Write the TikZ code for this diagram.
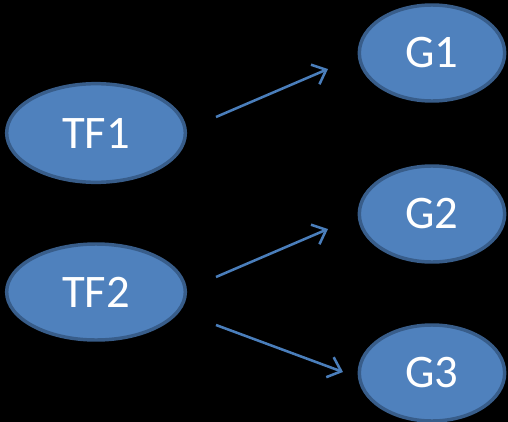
\documentclass[tikz,border=0pt]{standalone}
\usepackage{fontspec}
\setmainfont{Carlito}
\usetikzlibrary{shapes.geometric,arrows.meta}
\definecolor{nodefill}{HTML}{4F81BD}
\definecolor{nodeline}{HTML}{385D8A}
\definecolor{arrowc}{HTML}{4A7EBB}
\tikzset{
  gene/.style={ellipse, fill=nodefill, draw=nodeline, line width=2.6pt, text=white,
    font=\fontsize{35}{40}\selectfont, inner sep=0pt},
  link/.style={draw=arrowc, line width=1.9pt, -{Straight Barb[length=9pt,width=16pt,line width=1.9pt]}}
}
\begin{document}
\begin{tikzpicture}[x=0.75pt,y=-0.75pt]
\fill[black] (0,0) rectangle (508,422);
\useasboundingbox (0,0) rectangle (508,422);
\node[gene, minimum width=134pt, minimum height=74pt] (tf1) at (96,133) {TF1};
\node[gene, minimum width=134pt, minimum height=72pt] (tf2) at (96,292) {TF2};
\node[gene, minimum width=109pt, minimum height=72pt] (g1) at (432,53) {G1};
\node[gene, minimum width=109pt, minimum height=72pt] (g2) at (432,214) {G2};
\node[gene, minimum width=109pt, minimum height=72pt] (g3) at (432,373) {G3};
\coordinate (s1) at (216,117);
\coordinate (e1) at (328,69);
\coordinate (s2) at (216,277);
\coordinate (e2) at (328,229);
\coordinate (s3) at (216,325);
\coordinate (e3) at (343,372);
\draw[link] (s1) -- (e1);
\draw[link] (s2) -- (e2);
\draw[link] (s3) -- (e3);
\end{tikzpicture}
\end{document}
